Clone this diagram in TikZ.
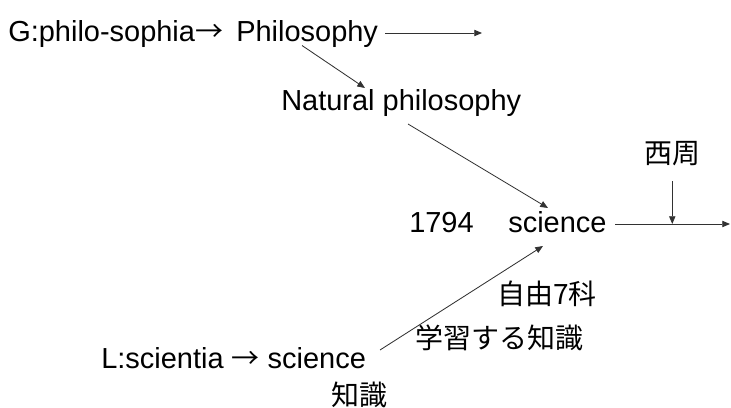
\documentclass[tikz,border=0pt]{standalone}
\usepackage{fontspec}
\setmainfont{Liberation Sans}
\newfontfamily\jpfont{Noto Sans CJK JP}
\usepackage{tikz}
\usetikzlibrary{arrows.meta,calc}
\usepackage{xcolor}
\definecolor{lineg}{RGB}{50,50,50}
\newcommand{\jparr}{{\jpfont\fontsize{19.9}{24}\selectfont →}}

\begin{document}
\begin{tikzpicture}[
  x=0.025cm, y=-0.025cm,
  lbl/.style={inner sep=0pt, anchor=base west,
              font=\fontsize{20.6}{24}\selectfont},
  jp/.style={lbl, font=\jpfont\fontsize{19.9}{24}\selectfont},
  arr/.style={-{Triangle[length=5.5pt,width=4.5pt]}, line width=0.6pt, lineg},
]
\useasboundingbox (0,0) rectangle (731,408);

%% --- Greek line ---
\node[lbl] (greek) at (8,41.5) {G:philo-sophia\jparr};
\node[lbl] (phil) at (236,41.5) {Philosophy};
\coordinate (philout) at ($(phil.base west)+(246,-8.5)$);
\draw[arr] ($(phil.base west)+(149,-8.5)$) -- (philout);

%% --- Natural philosophy ---
\node[lbl] (nat) at (281,110) {Natural philosophy};
\draw[arr] ($(phil.base west)+(66,4)$) -- ($(nat.base west)+(84,-22)$);

%% --- science ---
\node[lbl] (year) at (409,232) {1794};
\node[lbl] (sci) at (508,232) {science};
\draw[arr] ($(nat.base west)+(127,14)$) -- ($(sci.base west)+(40,-24)$);
\coordinate (sciout) at ($(sci.base west)+(222,-8)$);
\draw[arr] ($(sci.base west)+(107,-8)$) -- (sciout);

% Nishi Amane
\node[jp] (nishi) at (644,163) {西周};
\coordinate (hit) at (nishi.base |- sciout);
\draw[arr] ($(nishi.base)+(0,18)$) -- (hit);

%% --- Latin line ---
\node[lbl] (lsci) at (101,368) {L:scientia \jparr{} science};
\node[jp] (chishiki) at (331,405) {知識};
\node[jp] (jiyu) at (497,304) {自由7科};
\node[jp] (gaku) at (415,348) {学習する知識};
\draw[arr] ($(lsci.base west)+(279,-18)$) -- ($(sci.base west)+(35,14)$);

\end{tikzpicture}
\end{document}
